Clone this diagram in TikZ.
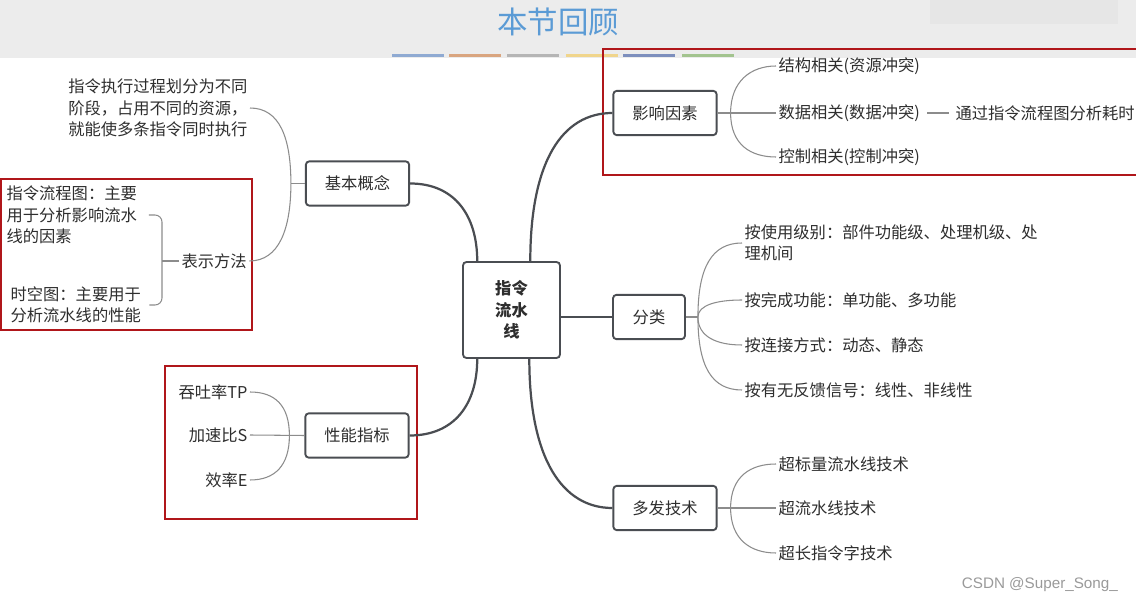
\documentclass[tikz,border=0pt]{standalone}
\usepackage{fontspec}
\setmainfont{Noto Sans CJK SC}
\newfontfamily\marcaagua{Liberation Sans}

\definecolor{cabecera}{HTML}{ECECEC}
\definecolor{cuadrogris}{HTML}{E6E6E6}
\definecolor{titulo}{HTML}{5B9BD5}
\definecolor{texto}{HTML}{2E2E2E}
\definecolor{borde}{HTML}{4A4D52}
\definecolor{lineagris}{HTML}{8C8C8C}
\definecolor{rojo}{HTML}{B0161A}
\definecolor{marca}{HTML}{9A9A9A}
\definecolor{barra1}{HTML}{8FAAD2}
\definecolor{barra2}{HTML}{D9A57F}
\definecolor{barra3}{HTML}{B5B5B5}
\definecolor{barra4}{HTML}{F0D58C}
\definecolor{barra5}{HTML}{7D8FBD}
\definecolor{barra6}{HTML}{A3C48F}

\newcommand\letra{\fontsize{13.9}{18.3}\selectfont}

\begin{document}
\begin{tikzpicture}[x=0.03cm, y=-0.03cm,
    tema/.style={draw=borde, line width=1.6pt, rounded corners=3pt, fill=white,
      text=texto, font=\letra, minimum width=3.1cm, minimum height=1.33cm, inner sep=0pt},
    hoja/.style={text=texto, font=\letra, inner sep=2pt},
    rama/.style={draw=lineagris, line width=0.9pt},
    tronco/.style={draw=borde, line width=1.9pt},
    marco/.style={draw=rojo, line width=2pt}]

    % 0. Fondo y cabecera
    \useasboundingbox (0,0) rectangle (1136,598);
    \fill[white] (0,0) rectangle (1136,598);
    \fill[cabecera] (0,0) rectangle (1136,58);
    \fill[cuadrogris] (930,0) rectangle (1118,24);
    \node[text=titulo, font=\fontsize{26}{30}\selectfont] (titulo) at (558,22) {本节回顾};
    \foreach \x/\c in {392/barra1, 449/barra2, 507/barra3, 566/barra4, 623/barra5, 682/barra6}
        \fill[\c] (\x,54) rectangle ++(52,3);

    % 1. Marcos rojos
    \draw[marco] (1140,49) -- (603,49) -- (603,175) -- (1140,175);
    \draw[marco] (1,179) rectangle (252,330);
    \draw[marco] (165,366) rectangle (417,519);

    % 2. Nodos principales
    \node[tema, minimum width=2.91cm, minimum height=2.88cm, align=center, font=\letra\bfseries] (raiz) at (511.5,310) {指令\\流水\\线};
    \node[tema] (concepto) at (357.5,183.5) {基本概念};
    \node[tema] (factores) at (665,113) {影响因素};
    \node[tema, minimum width=2.16cm] (clases) at (649,317) {分类};
    \node[tema] (indices) at (357,435.5) {性能指标};
    \node[tema] (multiple) at (665,508) {多发技术};

    % Hojas: basico
    \node[hoja, anchor=east, align=left] (idea) at (250,108) {指令执行过程划分为不同\\阶段，占用不同的资源，\\就能使多条指令同时执行};
    \node[hoja, anchor=west] (metodo) at (179,261) {表示方法};
    \node[hoja, anchor=west, align=left] (flujo) at (4,215) {指令流程图：主要\\用于分析影响流水\\线的因素};
    \node[hoja, anchor=west, align=left] (espacio) at (8,305) {时空图：主要用于\\分析流水线的性能};

    % Hojas: factores
    \node[hoja, anchor=west] (estructura) at (776,66) {结构相关(资源冲突)};
    \node[hoja, anchor=west] (datos) at (776,113) {数据相关(数据冲突)};
    \node[hoja, anchor=west] (control) at (776,157) {控制相关(控制冲突)};
    \node[hoja, anchor=west] (tiempo) at (953,113) {通过指令流程图分析耗时};

    % Hojas: clases
    \node[hoja, anchor=west, align=left] (uso) at (742,243) {按使用级别：部件功能级、处理机级、处\\理机间};
    \node[hoja, anchor=west] (funcion) at (742,300) {按完成功能：单功能、多功能};
    \node[hoja, anchor=west] (conexion) at (742,345) {按连接方式：动态、静态};
    \node[hoja, anchor=west] (retro) at (742,390) {按有无反馈信号：线性、非线性};

    % Hojas: indices
    \node[hoja, anchor=east] (tp) at (250,392) {吞吐率TP};
    \node[hoja, anchor=east] (aceleracion) at (250,435) {加速比S};
    \node[hoja, anchor=east] (eficiencia) at (250,480) {效率E};

    % Hojas: multiple
    \node[hoja, anchor=west] (escalar) at (776,464) {超标量流水线技术};
    \node[hoja, anchor=west] (superflujo) at (776,508) {超流水线技术};
    \node[hoja, anchor=west] (vliw) at (776,553) {超长指令字技术};

    % 3. Conectores gruesos
    \draw[tronco] (concepto.east) .. controls +(45,0) and +(0,-45) .. (raiz.125);
    \draw[tronco] (raiz.69) .. controls +(0,-100) and +(-50,0) .. (factores.west);
    \draw[tronco] (raiz.east |- clases.west) -- (clases.west);
    \draw[tronco] (indices.east) .. controls +(45,0) and +(0,45) .. (raiz.235);
    \draw[tronco] (raiz.290) .. controls +(0,100) and +(-50,0) .. (multiple.west);

    % 4. Ramas finas
    \draw[rama] (concepto.west) -- ++(-14,0) coordinate (jb);
    \draw[rama] (jb) .. controls +(0,-45) and +(30,0) .. (idea.east);
    \draw[rama] (jb) .. controls +(0,45) and +(30,0) .. (metodo.east);
    \coordinate (llave) at (162,261);
    \draw[rama] (metodo.west) -- (llave);
    \draw[rama, rounded corners=6pt] ([xshift=8pt]flujo.east) -| (llave) |- ([xshift=5pt]espacio.east);

    \draw[rama] (factores.east) -- ++(13,0) coordinate (jf);
    \draw[rama] (jf) .. controls +(0,-32) and +(-25,0) .. (estructura.west);
    \draw[rama] (jf) -- (datos.west);
    \draw[rama] (jf) .. controls +(0,32) and +(-25,0) .. (control.west);
    \draw[rama, shorten <=4pt, shorten >=3pt] (datos.east) -- (tiempo.west);

    \draw[rama] (clases.east) -- ++(12,0) coordinate (jc);
    \draw[rama] (jc) .. controls +(0,-50) and +(-30,0) .. (uso.west);
    \draw[rama] (jc) .. controls +(0,-12) and +(-25,0) .. (funcion.west);
    \draw[rama] (jc) .. controls +(0,20) and +(-25,0) .. (conexion.west);
    \draw[rama] (jc) .. controls +(0,50) and +(-30,0) .. (retro.west);

    \draw[rama] (indices.west) -- (aceleracion.east);
    \path (indices.west) ++(-15,0) coordinate (jp);
    \draw[rama] (jp) .. controls +(0,-30) and +(25,0) .. (tp.east);
    \draw[rama] (jp) .. controls +(0,30) and +(25,0) .. (eficiencia.east);

    \draw[rama] (multiple.east) -- ++(13,0) coordinate (jm);
    \draw[rama] (jm) .. controls +(0,-32) and +(-25,0) .. (escalar.west);
    \draw[rama] (jm) -- (superflujo.west);
    \draw[rama] (jm) .. controls +(0,32) and +(-25,0) .. (vliw.west);

    % Marca de agua
    \node[anchor=east, text=marca, font=\marcaagua\fontsize{13}{15}\selectfont] (firma) at (1122,585) {CSDN @Super\_Song\_};
\end{tikzpicture}
\end{document}
